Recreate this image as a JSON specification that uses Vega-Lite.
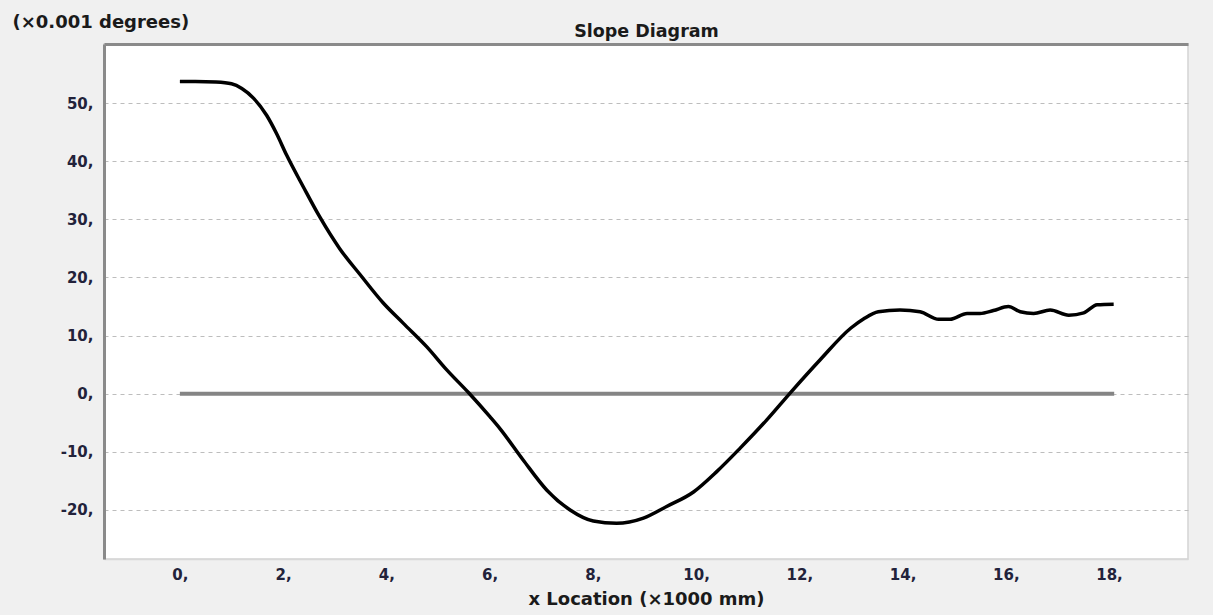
{
  "$schema": "https://vega.github.io/schema/vega-lite/v6.json",
  "width": 1084,
  "height": 515,
  "autosize": {"type": "none"},
  "padding": {"left": 104, "top": 44, "right": 25, "bottom": 56},
  "background": "#f0f0f0",
  "config": {
    "view": {"fill": "#ffffff", "stroke": "#d4d4d4", "strokeWidth": 1.5},
    "axis": {
      "labelFont": "DejaVu Sans",
      "labelFontWeight": "bold",
      "labelFontSize": 15,
      "labelColor": "#22223a",
      "titleFont": "DejaVu Sans",
      "titleFontWeight": "bold",
      "titleFontSize": 18,
      "titleColor": "#1a1a1a",
      "gridColor": "#bdbdbd",
      "gridDash": [4, 4],
      "gridWidth": 1,
      "ticks": false
    }
  },
  "datasets": {
    "slope": [
      {"x": 0, "y": 53.7},
      {"x": 0.3, "y": 53.7},
      {"x": 0.7, "y": 53.6},
      {"x": 1.0, "y": 53.3},
      {"x": 1.2, "y": 52.5},
      {"x": 1.43, "y": 50.8},
      {"x": 1.68, "y": 47.9},
      {"x": 1.87, "y": 44.8},
      {"x": 2.07, "y": 41.0},
      {"x": 2.39, "y": 35.6},
      {"x": 2.71, "y": 30.4},
      {"x": 3.1, "y": 24.9},
      {"x": 3.49, "y": 20.5},
      {"x": 3.94, "y": 15.6},
      {"x": 4.33, "y": 12.1},
      {"x": 4.78, "y": 8.1},
      {"x": 5.17, "y": 4.1},
      {"x": 5.59, "y": 0.2},
      {"x": 6.01, "y": -4.0},
      {"x": 6.2, "y": -6.0},
      {"x": 6.65, "y": -11.4},
      {"x": 7.11, "y": -16.6},
      {"x": 7.56, "y": -20.0},
      {"x": 8.01, "y": -21.9},
      {"x": 8.46, "y": -22.3},
      {"x": 8.98, "y": -21.4},
      {"x": 9.43, "y": -19.4},
      {"x": 9.95, "y": -16.9},
      {"x": 10.4, "y": -13.4},
      {"x": 10.85, "y": -9.4},
      {"x": 11.37, "y": -4.5},
      {"x": 11.83, "y": 0.2},
      {"x": 12.4, "y": 5.8},
      {"x": 13.0, "y": 11.3},
      {"x": 13.25, "y": 12.9},
      {"x": 13.53, "y": 14.1},
      {"x": 13.95, "y": 14.4},
      {"x": 14.34, "y": 14.1},
      {"x": 14.7, "y": 12.8},
      {"x": 14.92, "y": 12.8},
      {"x": 15.25, "y": 13.8},
      {"x": 15.5, "y": 13.8},
      {"x": 15.76, "y": 14.3},
      {"x": 16.05, "y": 15.0},
      {"x": 16.28, "y": 14.1},
      {"x": 16.54, "y": 13.8},
      {"x": 16.86, "y": 14.4},
      {"x": 17.22, "y": 13.5},
      {"x": 17.51, "y": 13.9},
      {"x": 17.77, "y": 15.3},
      {"x": 18.09, "y": 15.4}
    ],
    "zero": [
      {"x": 0, "y": 0},
      {"x": 18.1, "y": 0}
    ]
  },
  "layer": [
    {
      "data": {"name": "zero"},
      "mark": {"type": "line", "color": "#858585", "strokeWidth": 4},
      "encoding": {
        "x": {
          "field": "x",
          "type": "quantitative",
          "scale": {"domain": [-1.47, 19.53], "nice": false, "zero": false},
          "axis": {
            "orient": "top",
            "title": "Slope Diagram",
            "labels": false,
            "grid": false,
            "domain": true,
            "domainColor": "#8a8a8a",
            "domainWidth": 3,
            "titlePadding": 4,
            "titleFontSize": 17.5
          }
        },
        "y": {
          "field": "y",
          "type": "quantitative",
          "scale": {"domain": [-28.43, 60.15], "nice": false, "zero": false},
          "axis": {
            "values": [-20, -10, 0, 10, 20, 30, 40, 50],
            "labelExpr": "(datum.value < 0 ? '-' : '') + abs(datum.value) + ','",
            "labelPadding": 11,
            "domainColor": "#8a8a8a",
            "domainWidth": 3,
            "title": "(×0.001 degrees)",
            "titleAngle": 0,
            "titleAlign": "left",
            "titleBaseline": "middle",
            "titleX": -92,
            "titleY": -22
          }
        }
      }
    },
    {
      "data": {"name": "slope"},
      "mark": {"type": "line", "color": "#000000", "strokeWidth": 3.5, "interpolate": "monotone"},
      "encoding": {
        "x": {
          "field": "x",
          "type": "quantitative",
          "scale": {"domain": [-1.47, 19.53], "nice": false, "zero": false},
          "axis": {
            "orient": "bottom",
            "values": [0, 2, 4, 6, 8, 10, 12, 14, 16, 18],
            "labelExpr": "datum.label + ','",
            "labelPadding": 8,
            "domainColor": "#d8d8d8",
            "domainWidth": 1.5,
            "title": "x Location (×1000 mm)",
            "titlePadding": 8
          }
        },
        "y": {
          "field": "y",
          "type": "quantitative",
          "scale": {"domain": [-28.43, 60.15], "nice": false, "zero": false},
          "axis": {
            "values": [-20, -10, 0, 10, 20, 30, 40, 50],
            "labelExpr": "(datum.value < 0 ? '-' : '') + abs(datum.value) + ','",
            "labelPadding": 11,
            "domainColor": "#8a8a8a",
            "domainWidth": 3,
            "title": "(×0.001 degrees)",
            "titleAngle": 0,
            "titleAlign": "left",
            "titleBaseline": "middle",
            "titleX": -92,
            "titleY": -22
          }
        }
      }
    }
  ],
  "resolve": {"axis": {"x": "independent"}}
}
